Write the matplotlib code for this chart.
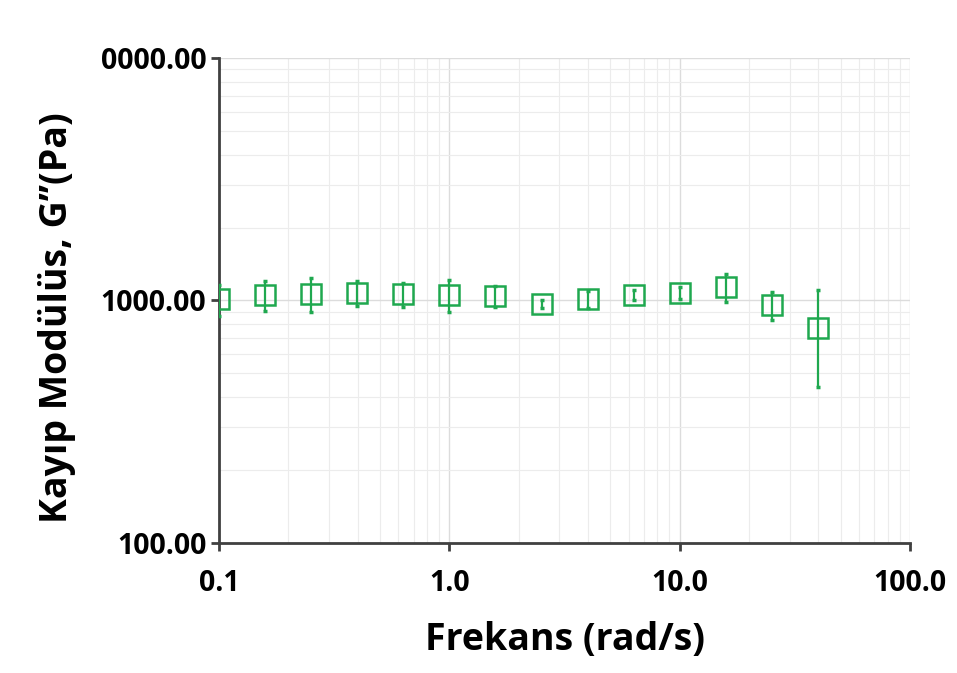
import numpy as np
import matplotlib
matplotlib.use("Agg")
import matplotlib.pyplot as plt
from matplotlib.ticker import FixedLocator, NullFormatter, LogLocator

# Données
frekans = [0.1, 0.158, 0.251, 0.398, 0.631, 1.0, 1.585, 2.512, 3.98, 6.31, 10.0, 15.85, 25.1, 39.8]
g_kayip = [1010, 1054, 1064, 1075, 1064, 1054, 1044, 967, 1015, 1054, 1075, 1137, 958, 770]
hata = [150, 150, 170, 130, 120, 160, 100, 40, 80, 50, 60, 150, 130, 330]

x_ticks = [0.1, 1, 10, 100]
x_labels = ["0.1", "1.0", "10.0", "100.0"]
y_ticks = [100, 1000, 10000]
y_labels = ["100.00", "1000.00", "0000.00"]

plt.rcParams['font.family'] = ['Open Sans', 'DejaVu Sans']

fig = plt.figure(figsize=(9.57, 6.73), dpi=100)
ax = fig.add_axes([0.2288, 0.1932, 0.7222, 0.7206])

vert = '#1fa84f'
ax.errorbar(frekans, g_kayip, yerr=hata, fmt='none', ecolor=vert,
            elinewidth=1.6, capsize=1.5, capthick=2.5, zorder=4)
ax.plot(frekans, g_kayip, 's', mfc='none', mec=vert, ms=14, mew=1.8,
        zorder=3)

ax.set_xscale('log')
ax.set_yscale('log')
ax.set_xlim(0.1, 100)
ax.set_ylim(100, 10000)

ax.xaxis.set_major_locator(FixedLocator(x_ticks))
ax.set_xticklabels(x_labels)
ax.yaxis.set_major_locator(FixedLocator(y_ticks))
ax.set_yticklabels(y_labels)
ax.xaxis.set_minor_locator(LogLocator(base=10, subs=np.arange(2, 10)))
ax.yaxis.set_minor_locator(LogLocator(base=10, subs=np.arange(2, 10)))
ax.xaxis.set_minor_formatter(NullFormatter())
ax.yaxis.set_minor_formatter(NullFormatter())

ax.grid(True, which='major', color='#dcdcdc', linewidth=1.0)
ax.grid(True, which='minor', color='#ececec', linewidth=0.8)
ax.set_axisbelow(True)

for s in ['top', 'right']:
    ax.spines[s].set_visible(False)
for s in ['left', 'bottom']:
    ax.spines[s].set_color('#404040')
    ax.spines[s].set_linewidth(2)

ax.tick_params(which='major', length=6, width=2, color='#404040',
               labelsize=20.5)
ax.tick_params(axis='x', pad=13)
ax.tick_params(axis='y', pad=3)
ax.tick_params(which='minor', length=0)
for lab in ax.get_xticklabels() + ax.get_yticklabels():
    lab.set_fontweight('bold')

ax.set_xlabel('Frekans (rad/s)', fontsize=27, fontweight='bold', labelpad=16)
ax.set_ylabel('Kayıp Modülüs, G’’(Pa)', fontsize=27, fontweight='bold',
              labelpad=18, y=0.465)

plt.savefig('out.png', dpi=100)
